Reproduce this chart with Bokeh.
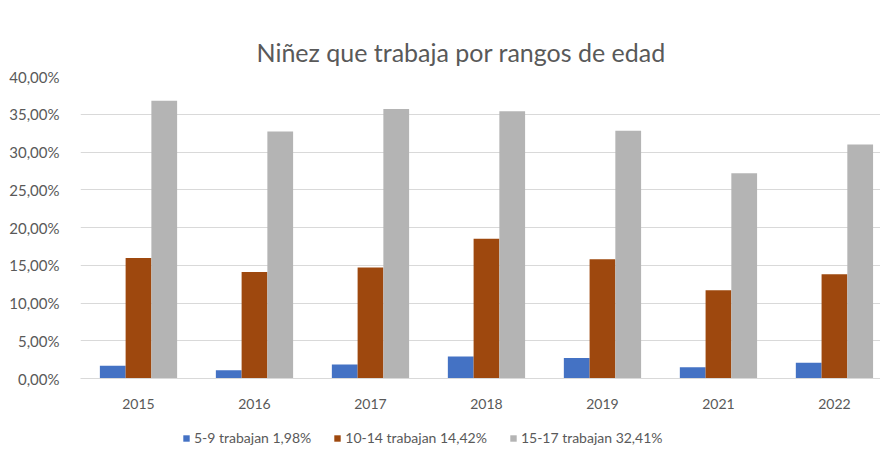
from bokeh.plotting import figure
from bokeh.layouts import column
from bokeh.models import (ColumnDataSource, Range1d, Legend, LegendItem, Title,
                          FixedTicker)
from bokeh.transform import dodge
from bokeh.embed import file_html
from bokeh.resources import INLINE

# ---- data ----
years = ["2015", "2016", "2017", "2018", "2019", "2021", "2022"]
s_5_9 = [0.0168, 0.0110, 0.0185, 0.0290, 0.0270, 0.0150, 0.0210]
s_10_14 = [0.1595, 0.1410, 0.1470, 0.1850, 0.1580, 0.1170, 0.1380]
s_15_17 = [0.3680, 0.3270, 0.3570, 0.3540, 0.3280, 0.2720, 0.3100]
series_labels = ["5-9 trabajan 1,98%", "10-14 trabajan 14,42%", "15-17 trabajan 32,41%"]
y_ticks = [0.0, 0.05, 0.10, 0.15, 0.20, 0.25, 0.30, 0.35, 0.40]
y_tick_labels = ["0,00%", "5,00%", "10,00%", "15,00%", "20,00%", "25,00%", "30,00%", "35,00%", "40,00%"]
title_text = "Niñez que trabaja por rangos de edad"

colors = ["#4472C4", "#9E480E", "#B4B4B4"]
FONT = "Lato"
TXT = "#595959"

xs = list(range(len(years)))
src = ColumnDataSource(dict(x=xs, a=s_5_9, b=s_10_14, c=s_15_17))

W, H1, H2 = 880, 412, 34
p = figure(width=W, height=H1, output_backend="svg", toolbar_location=None,
           x_range=Range1d(-0.5, 6.397), y_range=Range1d(0, 0.40),
           min_border_left=80, min_border_right=0, min_border_top=76,
           min_border_bottom=34)
p.title = None
p.outline_line_color = None
p.background_fill_color = "white"
p.border_fill_color = "white"

bw = 0.222
cols = ["a", "b", "c"]
offs = [-bw, 0.0, bw]
for c, o, col in zip(cols, offs, colors):
    p.vbar(x=dodge("x", o, range=p.x_range), top=c, width=bw, source=src,
           fill_color=col, line_color=None)

# axes
p.xaxis.ticker = FixedTicker(ticks=xs)
p.xaxis.major_label_overrides = {i: y for i, y in enumerate(years)}
p.xaxis.axis_line_color = "#D9D9D9"
p.xaxis.major_tick_line_color = None
p.xaxis.minor_tick_line_color = None
p.xaxis.major_label_standoff = 14
p.xaxis.major_label_text_font = FONT
p.xaxis.major_label_text_font_size = "14px"
p.xaxis.major_label_text_color = TXT

p.yaxis.ticker = FixedTicker(ticks=y_ticks)
p.yaxis.major_label_overrides = {t: l for t, l in zip(y_ticks, y_tick_labels)}
p.yaxis.axis_line_color = None
p.yaxis.major_tick_line_color = None
p.yaxis.minor_tick_line_color = None
p.yaxis.major_label_standoff = 15
p.yaxis.major_label_text_font = FONT
p.yaxis.major_label_text_font_size = "15px"
p.yaxis.major_label_text_color = TXT

p.xgrid.grid_line_color = None
p.ygrid.grid_line_color = "#D9D9D9"
p.ygrid.grid_line_width = 1

# title
t = Title(text=title_text, align="left", offset=176, text_font=FONT,
          text_font_size="25px", text_font_style="normal", text_color=TXT,
          standoff=20)
p.add_layout(t, "above")

# legend strip below the chart (its bars lie outside its visible range)
q = figure(width=W, height=H2, output_backend="svg", toolbar_location=None,
           x_range=Range1d(100, 101), y_range=Range1d(100, 101),
           x_axis_type=None, y_axis_type=None,
           min_border_left=0, min_border_right=0, min_border_top=0,
           min_border_bottom=0)
q.title = None
q.outline_line_color = None
q.xgrid.grid_line_color = None
q.ygrid.grid_line_color = None
q.border_fill_color = "white"
items = []
for c, col, lab in zip(cols, colors, series_labels):
    r = q.vbar(x="x", top=c, width=bw, source=src, fill_color=col, line_color=None)
    items.append(LegendItem(label=lab, renderers=[r]))

legend = Legend(items=items, orientation="horizontal", location=(102, 0),
                label_text_font=FONT, label_text_font_size="14px",
                label_text_color=TXT, glyph_width=8, glyph_height=8,
                label_height=14, label_standoff=4, spacing=22, padding=0,
                margin=0, background_fill_alpha=0, border_line_color=None)
q.add_layout(legend, "center")

layout = column(p, q, spacing=0)
open("out.html", "w").write(file_html(layout, INLINE))
